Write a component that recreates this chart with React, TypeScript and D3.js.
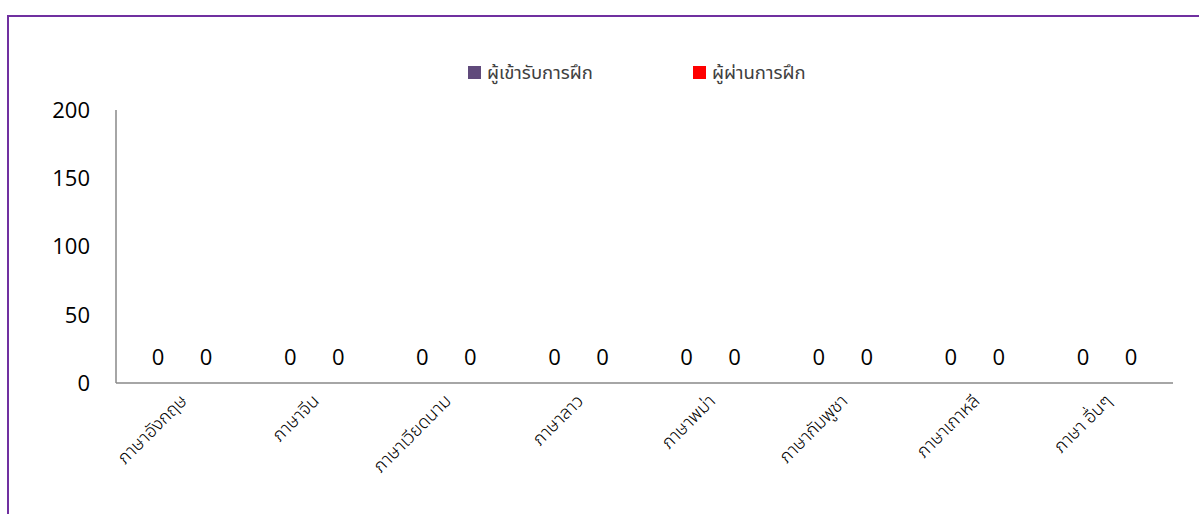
import React from "react";
import * as d3 from "d3";

const categories = ["ภาษาอังกฤษ", "ภาษาจีน", "ภาษาเวียดนาม", "ภาษาลาว", "ภาษาพม่า", "ภาษากัมพูชา", "ภาษาเกาหลี", "ภาษา อื่นๆ"];
const seriesNames = ["ผู้เข้ารับการฝึก", "ผู้ผ่านการฝึก"];
const seriesColors = ["#604A7B", "#FF0000"];
const trainees = [0, 0, 0, 0, 0, 0, 0, 0];
const passed = [0, 0, 0, 0, 0, 0, 0, 0];
const yTicks = [0, 50, 100, 150, 200];

export default function App() {
  const W = 1199, H = 514;
  const x0 = 116, x1 = 1173, yTop = 110, yBot = 383;
  const x = d3.scaleBand().domain(categories).range([x0, x1]);
  const xs = d3.scaleBand().domain(["a", "b"]).range([-48, 48]).paddingInner(0);
  const y = d3.scaleLinear().domain([0, 200]).range([yBot, yTop]);
  const series = [trainees, passed];
  const numFont = "'Open Sans', 'Liberation Sans', sans-serif";
  const thaiFont = "'Noto Sans Thai', 'Noto Sans', 'DejaVu Sans', sans-serif";
  return (
    <svg width={W} height={H} style={{ position: "absolute", left: 0, top: 0 }}>
      <rect x={0} y={0} width={W} height={H} fill="#fff" />
      <rect x={8} y={16} width={W} height={H} fill="none" stroke="#7030A0" strokeWidth={2} />
      {/* legend */}
      {seriesNames.map((n, i) => {
        const lx = [468, 693][i];
        return (
          <g key={n}>
            <rect x={lx} y={66} width={13} height={13} fill={seriesColors[i]} />
            <text x={lx + 19} y={73} dy="0.35em" fontSize={18.5} fontFamily={thaiFont} fill="#404040">{n}</text>
          </g>
        );
      })}
      {/* y axis */}
      <line x1={x0} x2={x0} y1={yTop} y2={yBot} stroke="#888" strokeWidth={1.5} />
      {yTicks.map((t) => (
        <text key={t} x={90} y={y(t)} dy="0.36em" textAnchor="end" fontSize={22} fontFamily={numFont} fill="#000">{t}</text>
      ))}
      <line x1={x0} x2={x1} y1={yBot} y2={yBot} stroke="#888" strokeWidth={1.5} />
      {/* bars and labels */}
      {categories.map((c, ci) => (
        <g key={c} transform={`translate(${(x(c) as number) + x.bandwidth() / 2},0)`}>
          {series.map((s, si) => {
            const bx = (xs(si === 0 ? "a" : "b") as number);
            const cx = bx + xs.bandwidth() / 2;
            return (
              <g key={si}>
                <rect x={bx + 6} width={xs.bandwidth() - 12} y={y(s[ci])} height={yBot - y(s[ci])} fill={seriesColors[si]} />
                <text x={cx} y={y(s[ci]) - 26} dy="0.36em" textAnchor="middle" fontSize={22} fontFamily={numFont} fill="#000">{s[ci]}</text>
              </g>
            );
          })}
          <text transform={`translate(6,402) rotate(-45)`} textAnchor="end" fontSize={18} fontWeight={300} fontFamily={thaiFont} fill="#000">{c}</text>
        </g>
      ))}
    </svg>
  );
}
